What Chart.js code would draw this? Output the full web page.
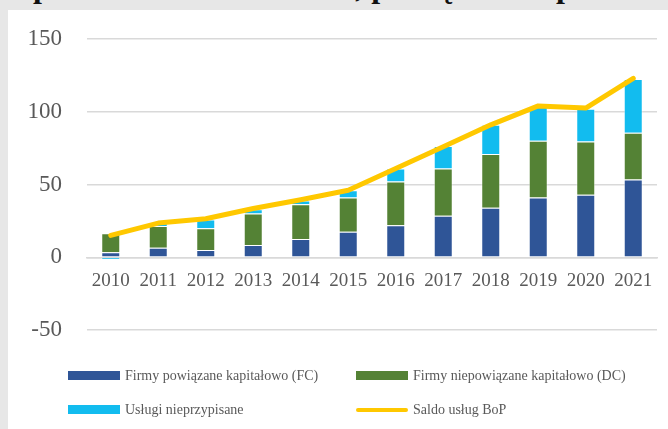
<!DOCTYPE html>
<html lang="pl">
<head>
    <meta charset="UTF-8">
    <title>Saldo usług BoP</title>
    <script src="https://cdn.jsdelivr.net/npm/chart.js"></script>
    <style>
        body { margin: 0; width: 668px; height: 429px; background: #e7e7e7; position: relative; overflow: hidden; }
        #title { position: absolute; left: 0; top: 0; width: 668px; height: 10px; overflow: hidden; }
        #title span { position: absolute; left: 9px; top: -32px; font: bold 32px "Liberation Serif", serif; color: #111; white-space: nowrap; line-height: 36px; }
        #panel { position: absolute; left: 8px; top: 10px; right: 0; bottom: 0; background: #fff; }
        #myChart { position: absolute; left: 0; top: 0; }
        .leg { position: absolute; font: 14px "Liberation Serif", serif; color: #595959; white-space: nowrap; }
        .leg i { position: absolute; left: 0; display: block; }
    </style>
</head>
<body>
<div id="title"><span>a pośrednictwo handlowe, powiązania z partnerem usługi (</span></div>
<div id="panel"></div>
<canvas id="myChart" width="668" height="429"></canvas>
<div id="legend"></div>

<script>
    const years = ['2010', '2011', '2012', '2013', '2014', '2015', '2016', '2017', '2018', '2019', '2020', '2021'];
    const fc = [3.5, 6.5, 5, 8.5, 12.5, 17.5, 22, 28.5, 34, 41, 43, 53.5];
    const dc = [13, 15, 15, 21.5, 24, 23.5, 30, 32.5, 37, 39, 36.5, 32];
    const unallocated = [-1.5, 2, 6, 3, 2.5, 5, 9, 15.5, 20, 23.5, 22.5, 37];
    const saldo = [15, 23.5, 26.5, 33.5, 39.5, 46, 61, 76, 91, 104, 102.5, 123];
    const yTicks = [-50, 0, 50, 100, 150];

    const names = ['Firmy powiązane kapitałowo (FC)', 'Firmy niepowiązane kapitałowo (DC)', 'Usługi nieprzypisane', 'Saldo usług BoP'];
    const colors = ['#2f5597', '#548235', '#12bcef', '#ffc800'];

    const ctx = document.getElementById('myChart').getContext('2d');
    const chart = new Chart(ctx, {
        data: {
            labels: years,
            datasets: [
                { type: 'line', label: names[3], data: saldo, borderColor: colors[3], borderWidth: 5, pointRadius: 0,
                  borderCapStyle: 'round', borderJoinStyle: 'round', tension: 0, order: 0, stack: 'line' },
                { type: 'bar', label: names[0], data: fc, backgroundColor: colors[0], order: 1, stack: 'bars',
                  borderColor: 'rgba(255,255,255,0.45)', borderWidth: 1 },
                { type: 'bar', label: names[1], data: dc, backgroundColor: colors[1], order: 1, stack: 'bars',
                  borderColor: 'rgba(255,255,255,0.45)', borderWidth: 1 },
                { type: 'bar', label: names[2], data: unallocated, backgroundColor: colors[2], order: 1, stack: 'bars',
                  borderColor: 'rgba(255,255,255,0.45)', borderWidth: 1 }
            ]
        },
        options: {
            responsive: false,
            animation: false,
            barPercentage: 0.4,
            categoryPercentage: 1,
            layout: { padding: { top: 39, right: 11, bottom: 99, left: 0 } },
            plugins: { legend: { display: false }, tooltip: { enabled: false } },
            scales: {
                x: {
                    stacked: true,
                    position: { y: 0 },
                    grid: { display: false, drawTicks: false },
                    border: { color: '#d9d9d9', width: 1.5 },
                    ticks: { color: '#595959', font: { family: 'Liberation Serif', size: 19 }, padding: 12, maxRotation: 0 }
                },
                y: {
                    stacked: true,
                    min: -50, max: 150,
                    afterBuildTicks: function (axis) { axis.ticks = yTicks.map(v => ({ value: v })); },
                    afterFit: function (axis) { axis.width = 87; },
                    grid: { color: '#d9d9d9', lineWidth: 1.5, drawTicks: false },
                    border: { display: false },
                    ticks: { color: '#595959', font: { family: 'Liberation Serif', size: 23 }, padding: 25 }
                }
            }
        }
    });

    // legend in two columns like the original
    const legPos = [[68, 371], [356, 371], [68, 405], [356, 405]];
    const legend = document.getElementById('legend');
    names.forEach(function (name, i) {
        const d = document.createElement('div');
        d.className = 'leg';
        d.style.left = legPos[i][0] + 'px';
        d.style.top = (legPos[i][1] - 4) + 'px';
        d.style.paddingLeft = '57px';
        d.style.lineHeight = '17px';
        const sw = document.createElement('i');
        sw.style.background = colors[i];
        sw.style.width = '52px';
        if (i === 3) { sw.style.height = '4px'; sw.style.top = '7px'; sw.style.borderRadius = '2px'; }
        else { sw.style.height = '9px'; sw.style.top = '4px'; }
        d.appendChild(sw);
        d.appendChild(document.createTextNode(name));
        legend.appendChild(d);
    });
</script>
</body>
</html>
